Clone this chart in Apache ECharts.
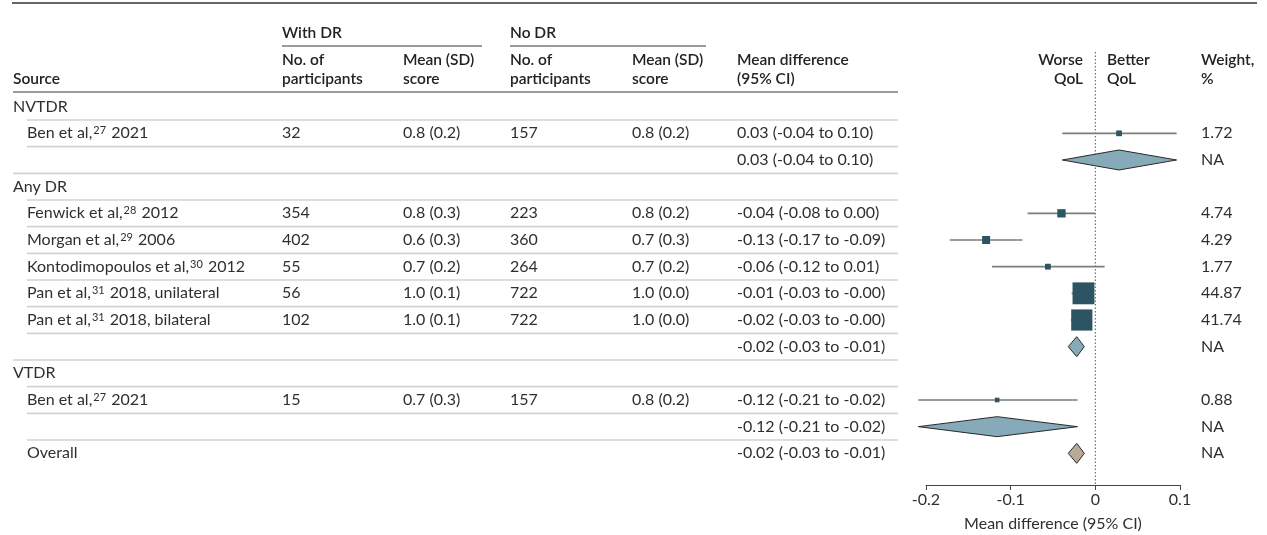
<!DOCTYPE html>
<html>
<head>
<meta charset="utf-8">
<title>Mean difference in QoL score, DR vs no DR</title>
<script src="https://cdn.jsdelivr.net/npm/echarts@6/dist/echarts.min.js"></script>
<style>
  html, body { margin: 0; padding: 0; background: #ffffff; }
  #chart { width: 1267px; height: 535px; }
</style>
</head>
<body>
<div id="chart"></div>
<script>
// ---- data ----
const groups = ['NVTDR', 'Any DR', 'VTDR'];

const studyAuthors = ['Ben et al,', 'Fenwick et al,', 'Morgan et al,', 'Kontodimopoulos et al,', 'Pan et al,', 'Pan et al,', 'Ben et al,'];
const studyRefs = ['27', '28', '29', '30', '31', '31', '27'];
const studyTails = ['2021', '2012', '2006', '2012', '2018, unilateral', '2018, bilateral', '2021'];
const studyGroup = [0, 1, 1, 1, 1, 1, 2];

const withDrN = [32, 354, 402, 55, 56, 102, 15];
const withDrMean = [0.8, 0.8, 0.6, 0.7, 1.0, 1.0, 0.7];
const withDrSD = [0.2, 0.3, 0.3, 0.2, 0.1, 0.1, 0.3];
const noDrN = [157, 223, 360, 264, 722, 722, 157];
const noDrMean = [0.8, 0.8, 0.7, 0.7, 1.0, 1.0, 0.8];
const noDrSD = [0.2, 0.2, 0.3, 0.2, 0.0, 0.0, 0.2];

const studyMD = [0.028, -0.040, -0.129, -0.056, -0.014, -0.016, -0.116];
const studyLo = [-0.039, -0.080, -0.172, -0.122, -0.028, -0.029, -0.209];
const studyHi = [0.096, 0.000, -0.086, 0.011, -0.004, -0.004, -0.021];
const studyWeight = [1.72, 4.74, 4.29, 1.77, 44.87, 41.74, 0.88];

const pooledMD = [0.028, -0.022, -0.116];
const pooledLo = [-0.039, -0.032, -0.209];
const pooledHi = [0.096, -0.013, -0.021];

const overallMD = -0.022;
const overallLo = -0.032;
const overallHi = -0.013;

const xTicks = [-0.2, -0.1, 0, 0.1];

// ---- styling ----
const FONT = 'Lato, "Noto Sans", sans-serif';
const FS = 16;
const FS_HEAD = 15.5;
const TEXT = '#2f2f2f';
const HEAD = '#222222';
const RULE = '#d3d3ce';
const BOX = '#2c5462';
const DIAMOND = '#86aab9';
const OVERALL = '#b7ab95';

// table column anchors (px)
const COL = { group: 13, study: 27, withN: 282, withMean: 403, noN: 510, noMean: 632, md: 737, weight: 1201, tableEnd: 898 };

const fmt2 = v => v.toFixed(2);
const fmtCI = (m, lo, hi) => `${fmt2(m)} (${fmt2(lo)} to ${fmt2(hi)})`;
const fmtMSD = (m, sd) => `${m.toFixed(1)} (${sd.toFixed(1)})`;

// ---- build table rows ----
const rows = [];
groups.forEach((g, gi) => {
  rows.push({ kind: 'group', label: g });
  studyGroup.forEach((sg, si) => {
    if (sg === gi) rows.push({ kind: 'study', idx: si });
  });
  rows.push({ kind: 'pooled', idx: gi });
});
rows.push({ kind: 'overall' });

const studyRow = studyAuthors.map((_, si) => rows.findIndex(r => r.kind === 'study' && r.idx === si));
const pooledRow = groups.map((_, gi) => rows.findIndex(r => r.kind === 'pooled' && r.idx === gi));
const overallRow = rows.length - 1;

// ---- render helpers ----
function textEl(x, y, text, extra) {
  return {
    type: 'text',
    style: Object.assign({
      x: x, y: y, text: text, fill: TEXT,
      fontFamily: FONT, fontSize: FS,
      align: 'left', verticalAlign: 'middle'
    }, extra || {})
  };
}

function renderTable(params, api) {
  const i = params.dataIndex;
  const r = rows[i];
  const y = api.coord([0, i])[1];
  const half = api.size([0, 1])[1] / 2;
  const kids = [];

  // top rule of each row (row 0 sits under the header rule)
  if (i > 0) {
    const indent = r.kind === 'group' ? COL.group : COL.study;
    kids.push({ type: 'line', shape: { x1: indent, y1: y - half, x2: COL.tableEnd, y2: y - half },
      style: { stroke: RULE, lineWidth: 1.6 } });
  }

  if (r.kind === 'group') {
    kids.push(textEl(COL.group, y, r.label));
  } else if (r.kind === 'study') {
    const s = r.idx;
    kids.push({
      type: 'text',
      style: {
        x: COL.study, y: y, fill: TEXT, fontFamily: FONT, fontSize: FS,
        align: 'left', verticalAlign: 'middle',
        text: `${studyAuthors[s]}{sup|${studyRefs[s]}} ${studyTails[s]}`,
        rich: { sup: { fontSize: 11, fontFamily: FONT, fill: TEXT, verticalAlign: 'top', padding: [0, 1, 0, 1] } }
      }
    });
    kids.push(textEl(COL.withN, y, String(withDrN[s])));
    kids.push(textEl(COL.withMean, y, fmtMSD(withDrMean[s], withDrSD[s])));
    kids.push(textEl(COL.noN, y, String(noDrN[s])));
    kids.push(textEl(COL.noMean, y, fmtMSD(noDrMean[s], noDrSD[s])));
    kids.push(textEl(COL.md, y, fmtCI(studyMD[s], studyLo[s], studyHi[s])));
    kids.push(textEl(COL.weight, y, studyWeight[s].toFixed(2)));
  } else if (r.kind === 'pooled') {
    const g = r.idx;
    kids.push(textEl(COL.md, y, fmtCI(pooledMD[g], pooledLo[g], pooledHi[g])));
    kids.push(textEl(COL.weight, y, 'NA'));
  } else {
    kids.push(textEl(COL.study, y, 'Overall'));
    kids.push(textEl(COL.md, y, fmtCI(overallMD, overallLo, overallHi)));
    kids.push(textEl(COL.weight, y, 'NA'));
  }
  return { type: 'group', children: kids };
}

function renderStudy(params, api) {
  const i = params.dataIndex;
  const row = studyRow[i];
  const c = api.coord([studyMD[i], row]);
  const lo = api.coord([studyLo[i], row])[0];
  const hi = api.coord([studyHi[i], row])[0];
  const s = 1.8 + 3.0 * Math.sqrt(studyWeight[i]);
  return {
    type: 'group',
    children: [
      { type: 'line', shape: { x1: lo, y1: c[1], x2: hi, y2: c[1] }, style: { stroke: '#7d7d7d', lineWidth: 1.6 } },
      { type: 'rect', shape: { x: c[0] - s / 2, y: c[1] - s / 2, width: s, height: s }, style: { fill: BOX } }
    ]
  };
}

function diamond(api, m, lo, hi, row, fill) {
  const c = api.coord([m, row]);
  const l = api.coord([lo, row])[0];
  const h = api.coord([hi, row])[0];
  const dh = 10;
  return {
    type: 'polygon',
    shape: { points: [[l, c[1]], [c[0], c[1] - dh], [h, c[1]], [c[0], c[1] + dh]] },
    style: { fill: fill, stroke: '#2a2a2a', lineWidth: 1 }
  };
}

function renderPooled(params, api) {
  const g = params.dataIndex;
  return diamond(api, pooledMD[g], pooledLo[g], pooledHi[g], pooledRow[g], DIAMOND);
}

function renderOverall(params, api) {
  return diamond(api, overallMD, overallLo, overallHi, overallRow, OVERALL);
}

function renderNull(params, api) {
  const top = api.coord([0, -2.05]);
  const bottom = api.coord([0, 14.1875]);
  return {
    type: 'line',
    shape: { x1: top[0], y1: top[1], x2: bottom[0], y2: bottom[1] },
    style: { stroke: '#555555', lineWidth: 1, lineDash: [1.5, 2] }
  };
}

// ---- header text ----
function headText(x, y, text, align) {
  return { type: 'text', x: x, y: y, silent: true,
    style: { text: text, fill: HEAD, fontFamily: FONT, fontSize: FS_HEAD, fontWeight: 600,
      align: align || 'left', verticalAlign: 'middle' } };
}
function rule(x1, x2, y, color, w) {
  return { type: 'line', silent: true, shape: { x1: x1, y1: y, x2: x2, y2: y },
    style: { stroke: color, lineWidth: w } };
}

const headerGraphics = [
  rule(12, 1257, 3, '#666666', 2),
  headText(COL.withN, 33, 'With DR'),
  rule(COL.withN, 482, 46, '#7a7a7a', 1.5),
  headText(COL.noN, 33, 'No DR'),
  rule(COL.noN, 706, 46, '#7a7a7a', 1.5),
  headText(COL.withN, 60, 'No. of'), headText(COL.withN, 79, 'participants'),
  headText(COL.withMean, 60, 'Mean (SD)'), headText(COL.withMean, 79, 'score'),
  headText(COL.noN, 60, 'No. of'), headText(COL.noN, 79, 'participants'),
  headText(COL.noMean, 60, 'Mean (SD)'), headText(COL.noMean, 79, 'score'),
  headText(COL.md, 60, 'Mean difference'), headText(COL.md, 79, '(95% CI)'),
  headText(COL.group, 79, 'Source'),
  headText(1083, 60, 'Worse', 'right'), headText(1083, 79, 'QoL', 'right'),
  headText(1107, 60, 'Better'), headText(1107, 79, 'QoL'),
  headText(COL.weight, 60, 'Weight,'), headText(COL.weight, 79, '%'),
  rule(COL.group, COL.tableEnd, 92, '#7a7a7a', 1.5)
];

// ---- chart ----
const chart = echarts.init(document.getElementById('chart'), null, { renderer: 'canvas' });

chart.setOption({
  backgroundColor: '#ffffff',
  animation: false,
  textStyle: { fontFamily: FONT },
  grid: { left: 926, right: 87, top: 93.33, height: 391.67, containLabel: false, outerBoundsMode: 'none' },
  xAxis: {
    type: 'value',
    min: xTicks[0],
    max: xTicks[xTicks.length - 1],
    interval: 0.1,
    axisLine: { show: true, onZero: false, lineStyle: { color: '#444444', width: 1 } },
    axisTick: { show: true, length: 5, lineStyle: { color: '#444444', width: 1 } },
    axisLabel: { color: TEXT, fontSize: FS, fontFamily: FONT, margin: 7,
      formatter: v => (Math.abs(v) < 1e-9 ? '0' : v.toFixed(1)) },
    splitLine: { show: false },
    name: 'Mean difference (95% CI)',
    nameLocation: 'middle',
    nameGap: 31,
    nameTextStyle: { color: TEXT, fontSize: FS, fontFamily: FONT }
  },
  yAxis: { type: 'value', inverse: true, min: -0.5, max: 14.1875, show: false },
  graphic: headerGraphics,
  series: [
    { type: 'custom', name: 'table', renderItem: renderTable, clip: false, silent: true,
      data: rows.map((_, i) => [0, i]), z: 1 },
    { type: 'custom', name: 'null line', renderItem: renderNull, clip: false, silent: true,
      data: [[0, 0]], z: 2 },
    { type: 'custom', name: 'studies', renderItem: renderStudy, clip: false,
      data: studyMD.map((v, i) => [v, studyRow[i]]), z: 3 },
    { type: 'custom', name: 'subgroups', renderItem: renderPooled, clip: false,
      data: pooledMD.map((v, i) => [v, pooledRow[i]]), z: 3 },
    { type: 'custom', name: 'overall', renderItem: renderOverall, clip: false,
      data: [[overallMD, overallRow]], z: 3 }
  ]
});
</script>
</body>
</html>
